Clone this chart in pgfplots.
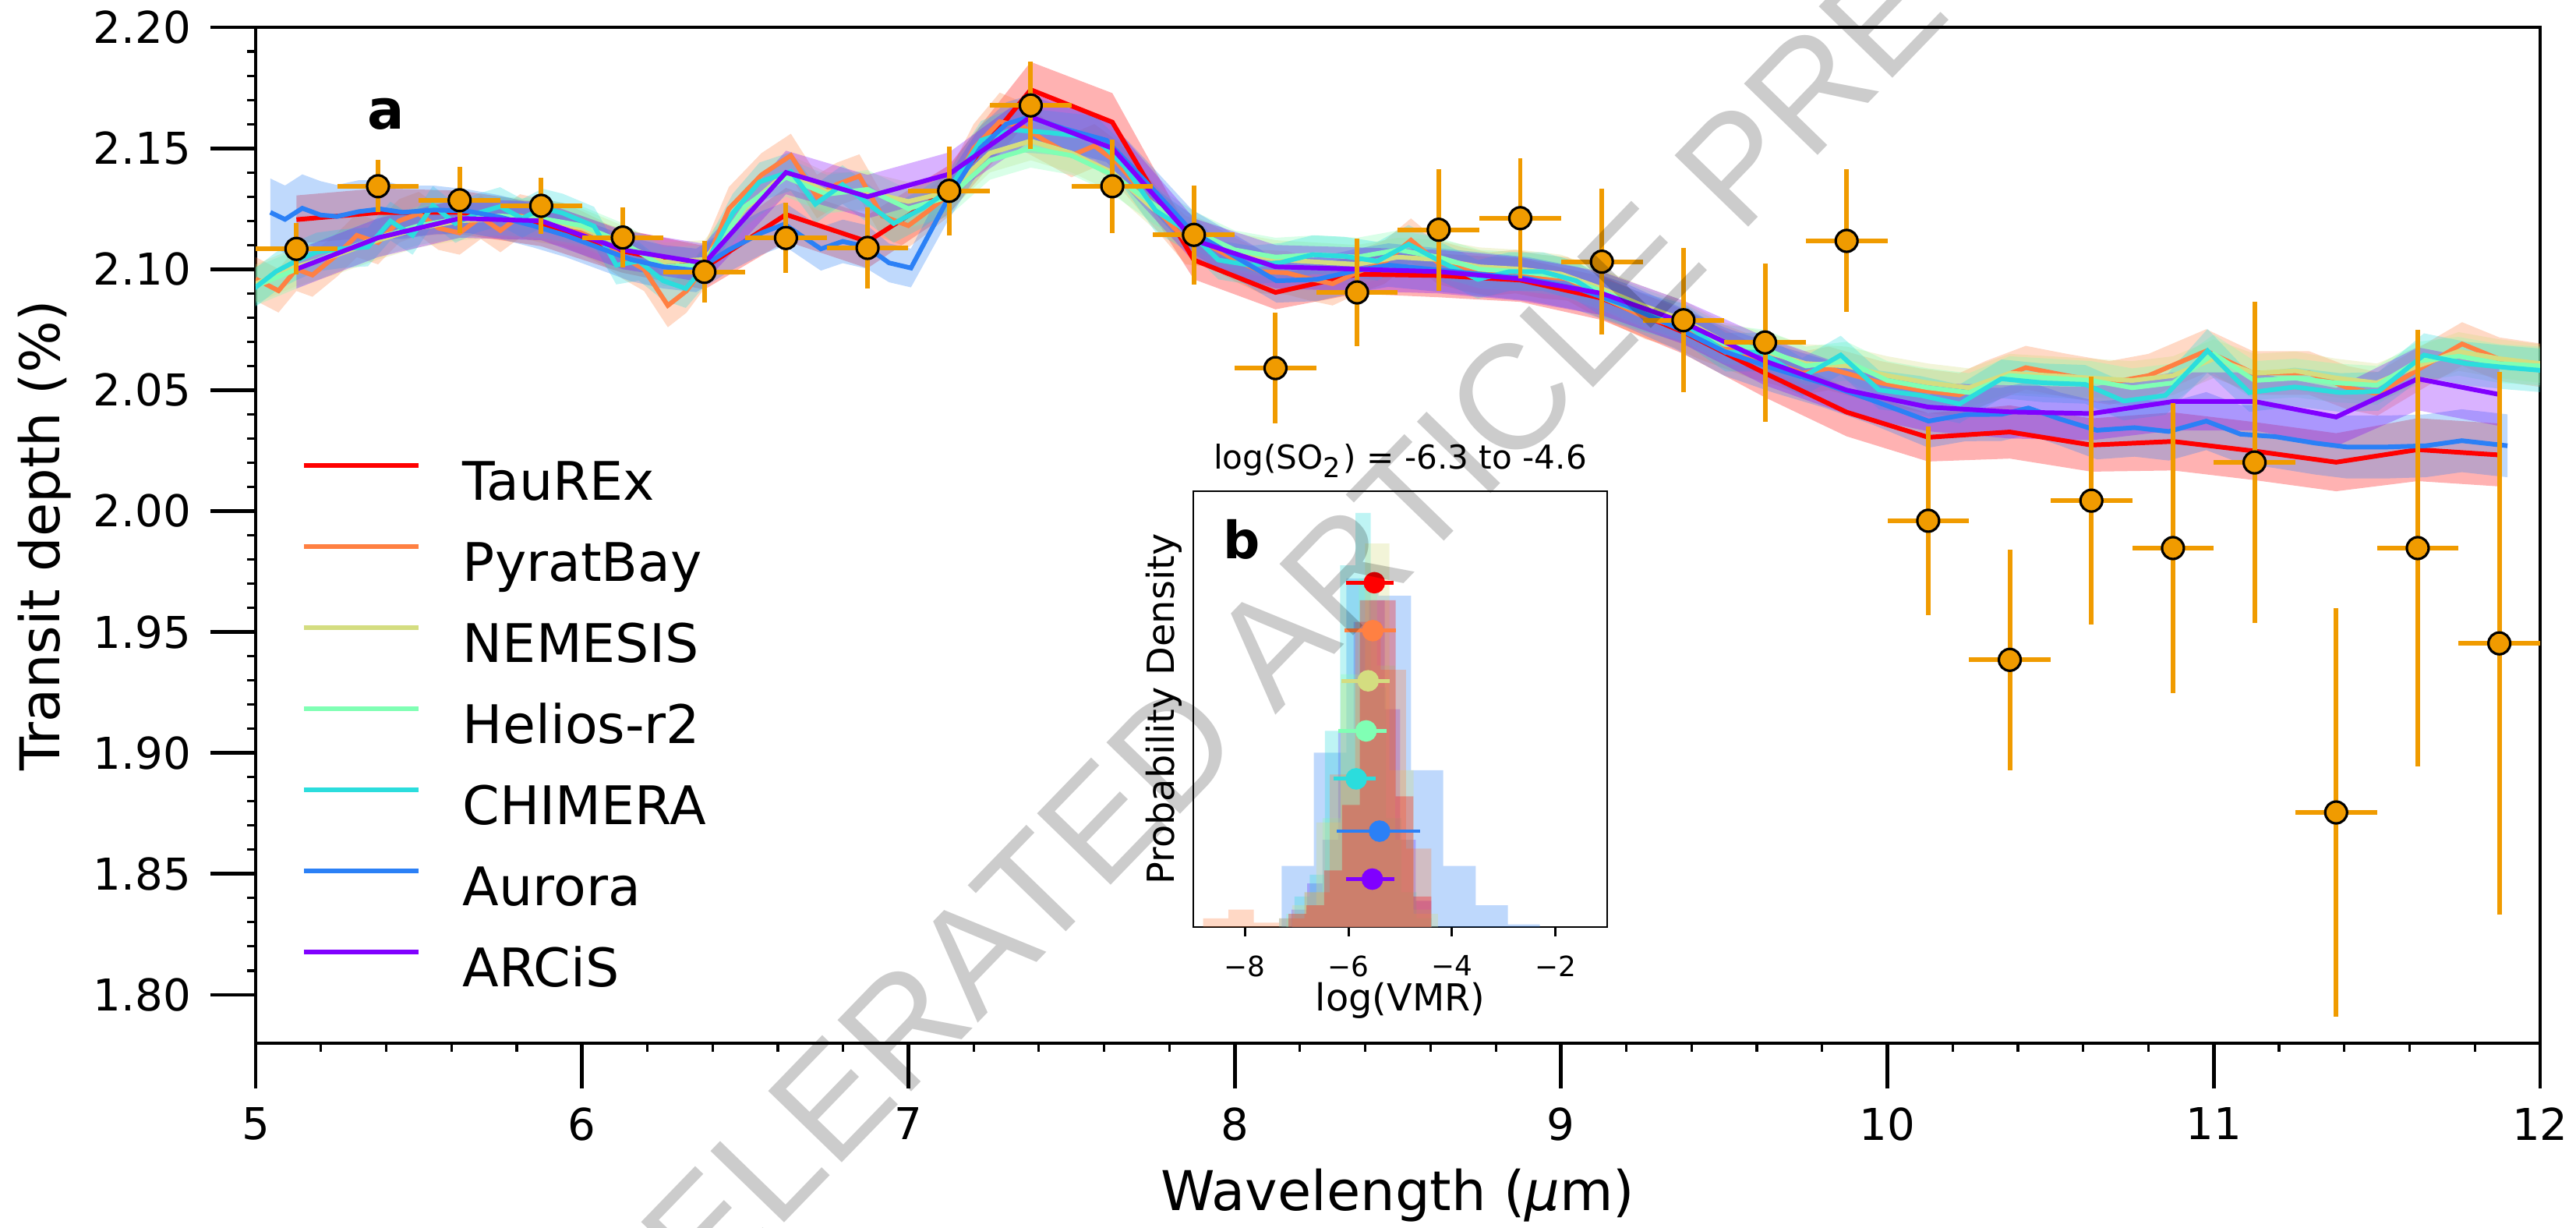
\documentclass[border=0pt]{standalone}
\usepackage{pgfplots}
\pgfplotsset{compat=1.18}
\usepackage{pgfplotstable}
\usepgfplotslibrary{fillbetween}
\usepackage{fontspec}
\setmainfont{DejaVu Sans}
\newfontfamily\wmfont{Liberation Sans}

\definecolor{cTau}{RGB}{255,0,0}
\definecolor{cPyr}{RGB}{255,128,66}
\definecolor{cNem}{RGB}{212,221,128}
\definecolor{cHel}{RGB}{128,255,180}
\definecolor{cChi}{RGB}{43,221,221}
\definecolor{cAur}{RGB}{43,128,246}
\definecolor{cArc}{RGB}{128,0,255}
\definecolor{cObs}{RGB}{240,155,0}

\pgfplotstableread{
x y e
5.125 2.1205 0.010
5.375 2.1234 0.010
5.625 2.1235 0.009
5.875 2.1185 0.009
6.125 2.1075 0.009
6.375 2.1006 0.009
6.625 2.1226 0.011
6.875 2.1114 0.011
7.125 2.1330 0.010
7.375 2.1742 0.0115
7.625 2.1608 0.012
7.875 2.1038 0.008
8.125 2.0904 0.007
8.375 2.0979 0.008
8.625 2.0974 0.009
8.875 2.0955 0.009
9.125 2.0880 0.009
9.375 2.0740 0.009
9.625 2.0570 0.010
9.875 2.0409 0.010
10.125 2.0305 0.010
10.375 2.0327 0.011
10.625 2.0273 0.011
10.875 2.0288 0.012
11.125 2.0248 0.012
11.375 2.0202 0.012
11.625 2.0254 0.013
11.875 2.0232 0.013
}\tauTab

\pgfplotstableread{
x y e
5.000 2.0960 0.009
5.070 2.0911 0.009
5.125 2.1000 0.009
5.174 2.0976 0.009
5.250 2.1060 0.009
5.310 2.1140 0.009
5.375 2.1110 0.009
5.440 2.1200 0.009
5.500 2.1230 0.009
5.560 2.1170 0.009
5.625 2.1150 0.009
5.690 2.1215 0.009
5.750 2.1160 0.009
5.810 2.1220 0.009
5.875 2.1200 0.009
5.940 2.1185 0.009
6.000 2.1150 0.009
6.060 2.1110 0.009
6.125 2.1050 0.009
6.190 2.1000 0.009
6.263 2.0850 0.009
6.320 2.0910 0.009
6.375 2.1010 0.009
6.450 2.1250 0.009
6.550 2.1390 0.009
6.640 2.1470 0.009
6.720 2.1300 0.009
6.780 2.1350 0.009
6.850 2.1385 0.009
6.920 2.1220 0.009
7.000 2.1180 0.009
7.060 2.1240 0.009
7.125 2.1310 0.009
7.200 2.1500 0.010
7.280 2.1610 0.012
7.350 2.1590 0.010
7.420 2.1530 0.009
7.500 2.1470 0.009
7.570 2.1510 0.009
7.640 2.1440 0.009
7.710 2.1330 0.009
7.780 2.1220 0.009
7.850 2.1120 0.010
7.920 2.1100 0.009
8.000 2.1040 0.009
8.080 2.0990 0.009
8.160 2.0985 0.009
8.230 2.0960 0.009
8.300 2.0940 0.009
8.380 2.0990 0.009
8.460 2.1030 0.009
8.540 2.1120 0.009
8.620 2.1030 0.009
8.700 2.1000 0.009
8.780 2.0980 0.009
8.860 2.0990 0.009
8.940 2.0970 0.009
9.020 2.0960 0.009
9.100 2.0900 0.009
9.180 2.0850 0.009
9.260 2.0800 0.009
9.340 2.0770 0.009
9.420 2.0720 0.009
9.500 2.0680 0.009
9.580 2.0640 0.009
9.660 2.0610 0.009
9.740 2.0570 0.009
9.820 2.0590 0.009
9.900 2.0560 0.009
9.980 2.0530 0.009
10.100 2.0500 0.009
10.220 2.0480 0.009
10.300 2.0530 0.009
10.424 2.0593 0.009
10.550 2.0560 0.009
10.680 2.0530 0.009
10.800 2.0560 0.009
10.977 2.0662 0.009
11.120 2.0571 0.009
11.292 2.0571 0.009
11.410 2.0510 0.009
11.502 2.0485 0.009
11.620 2.0580 0.009
11.761 2.0691 0.009
11.875 2.0628 0.009
12.000 2.0603 0.009
}\pyrTab

\pgfplotstableread{
x y e
5.000 2.0940 0.008
5.125 2.1010 0.008
5.250 2.1060 0.008
5.375 2.1120 0.008
5.500 2.1170 0.008
5.625 2.1200 0.008
5.750 2.1210 0.008
5.875 2.1200 0.008
6.000 2.1170 0.008
6.125 2.1100 0.008
6.250 2.1030 0.008
6.375 2.1040 0.008
6.500 2.1250 0.008
6.625 2.1400 0.008
6.750 2.1320 0.008
6.875 2.1320 0.008
7.000 2.1280 0.008
7.125 2.1320 0.008
7.250 2.1480 0.008
7.375 2.1530 0.008
7.500 2.1480 0.008
7.625 2.1400 0.008
7.750 2.1250 0.008
7.875 2.1140 0.008
8.000 2.1070 0.008
8.125 2.1040 0.008
8.250 2.1030 0.008
8.375 2.1020 0.008
8.500 2.1050 0.008
8.625 2.1040 0.008
8.750 2.1010 0.008
8.875 2.1000 0.008
9.000 2.0980 0.008
9.125 2.0920 0.008
9.250 2.0850 0.008
9.375 2.0790 0.008
9.500 2.0700 0.008
9.625 2.0660 0.008
9.750 2.0610 0.008
9.875 2.0600 0.008
10.000 2.0560 0.008
10.125 2.0530 0.008
10.250 2.0510 0.008
10.375 2.0570 0.008
10.500 2.0560 0.008
10.625 2.0550 0.008
10.750 2.0540 0.008
10.875 2.0560 0.008
11.000 2.0630 0.008
11.125 2.0570 0.008
11.250 2.0580 0.008
11.375 2.0550 0.008
11.500 2.0530 0.008
11.625 2.0600 0.008
11.750 2.0660 0.008
11.875 2.0630 0.008
12.000 2.0610 0.008
}\nemTab

\pgfplotstableread{
x y e
5.000 2.0930 0.008
5.125 2.1000 0.008
5.250 2.1070 0.008
5.375 2.1130 0.008
5.500 2.1180 0.008
5.625 2.1210 0.008
5.750 2.1220 0.008
5.875 2.1210 0.008
6.000 2.1180 0.008
6.125 2.1110 0.008
6.250 2.1010 0.008
6.375 2.1020 0.008
6.500 2.1260 0.008
6.625 2.1380 0.008
6.750 2.1310 0.008
6.875 2.1330 0.008
7.000 2.1250 0.008
7.125 2.1300 0.008
7.250 2.1450 0.008
7.375 2.1500 0.008
7.500 2.1470 0.008
7.625 2.1390 0.008
7.750 2.1270 0.008
7.875 2.1160 0.008
8.000 2.1080 0.008
8.125 2.1050 0.008
8.250 2.1060 0.008
8.375 2.1050 0.008
8.500 2.1080 0.008
8.625 2.1050 0.008
8.750 2.1000 0.008
8.875 2.0990 0.008
9.000 2.0970 0.008
9.125 2.0910 0.008
9.250 2.0840 0.008
9.375 2.0780 0.008
9.500 2.0690 0.008
9.625 2.0670 0.008
9.750 2.0600 0.008
9.875 2.0620 0.008
10.000 2.0540 0.008
10.125 2.0510 0.008
10.250 2.0490 0.008
10.375 2.0560 0.008
10.500 2.0550 0.008
10.625 2.0540 0.008
10.750 2.0510 0.008
10.875 2.0530 0.008
11.000 2.0650 0.008
11.125 2.0540 0.008
11.250 2.0550 0.008
11.375 2.0530 0.008
11.500 2.0520 0.008
11.625 2.0620 0.008
11.750 2.0640 0.008
11.875 2.0610 0.008
12.000 2.0600 0.008
}\helTab

\pgfplotstableread{
x y e
4.995 2.0920 0.008
5.062 2.0990 0.008
5.125 2.1035 0.008
5.187 2.1071 0.008
5.265 2.1085 0.008
5.344 2.1092 0.008
5.413 2.1199 0.008
5.481 2.1140 0.008
5.543 2.1264 0.008
5.612 2.1189 0.008
5.680 2.1232 0.008
5.749 2.1259 0.008
5.817 2.1210 0.008
5.879 2.1253 0.008
5.941 2.1232 0.008
6.037 2.1178 0.008
6.105 2.1017 0.008
6.174 2.1033 0.008
6.249 2.0952 0.008
6.318 2.0920 0.008
6.373 2.1006 0.008
6.462 2.1232 0.008
6.544 2.1361 0.008
6.640 2.1404 0.008
6.715 2.1269 0.008
6.798 2.1350 0.008
6.873 2.1275 0.008
6.955 2.1189 0.008
7.045 2.1253 0.008
7.121 2.1323 0.008
7.223 2.1533 0.008
7.319 2.1576 0.009
7.429 2.1565 0.009
7.573 2.1543 0.009
7.662 2.1425 0.009
7.758 2.1242 0.009
7.868 2.1146 0.008
7.950 2.1038 0.008
8.046 2.1017 0.008
8.142 2.1028 0.008
8.238 2.1060 0.008
8.334 2.1054 0.008
8.437 2.1033 0.008
8.533 2.1103 0.008
8.636 2.1028 0.008
8.745 2.0958 0.008
8.841 2.0990 0.008
8.944 2.0990 0.008
9.047 2.0952 0.008
9.129 2.0881 0.008
9.247 2.0823 0.008
9.375 2.0777 0.008
9.504 2.0657 0.008
9.611 2.0657 0.008
9.739 2.0553 0.008
9.857 2.0645 0.008
9.974 2.0501 0.008
10.103 2.0478 0.008
10.221 2.0443 0.008
10.349 2.0547 0.008
10.478 2.0530 0.008
10.606 2.0524 0.008
10.724 2.0455 0.008
10.852 2.0478 0.008
10.981 2.0663 0.009
11.109 2.0490 0.008
11.248 2.0513 0.008
11.387 2.0490 0.008
11.505 2.0495 0.008
11.644 2.0645 0.009
11.772 2.0610 0.009
11.901 2.0593 0.009
12.000 2.0582 0.009
}\chiTab

\pgfplotstableread{
x y e
5.045 2.1235 0.014
5.090 2.1206 0.014
5.143 2.1252 0.014
5.199 2.1224 0.014
5.249 2.1218 0.013
5.316 2.1238 0.013
5.383 2.1249 0.012
5.450 2.1235 0.011
5.550 2.1245 0.010
5.650 2.1240 0.009
5.750 2.1215 0.009
5.850 2.1180 0.009
5.950 2.1140 0.009
6.050 2.1090 0.009
6.150 2.1040 0.009
6.250 2.1010 0.009
6.350 2.0995 0.009
6.450 2.1080 0.009
6.550 2.1150 0.009
6.620 2.1186 0.009
6.732 2.1084 0.009
6.799 2.1115 0.009
6.873 2.1092 0.009
6.941 2.1026 0.008
7.008 2.1005 0.008
7.121 2.1290 0.009
7.220 2.1500 0.009
7.300 2.1600 0.009
7.370 2.1629 0.009
7.480 2.1580 0.009
7.607 2.1533 0.009
7.680 2.1430 0.009
7.758 2.1318 0.009
7.868 2.1157 0.009
7.977 2.1071 0.009
8.128 2.0952 0.009
8.252 2.0958 0.009
8.375 2.0995 0.009
8.471 2.1017 0.009
8.600 2.1000 0.009
8.750 2.0980 0.009
8.900 2.0960 0.009
9.050 2.0920 0.009
9.200 2.0850 0.009
9.350 2.0760 0.009
9.500 2.0660 0.010
9.650 2.0590 0.010
9.800 2.0530 0.010
9.950 2.0460 0.010
10.126 2.0372 0.011
10.240 2.0399 0.011
10.350 2.0400 0.011
10.432 2.0426 0.011
10.530 2.0380 0.011
10.642 2.0334 0.012
10.757 2.0345 0.012
10.862 2.0329 0.012
10.977 2.0372 0.012
11.082 2.0318 0.012
11.187 2.0308 0.013
11.311 2.0281 0.013
11.407 2.0265 0.013
11.531 2.0265 0.013
11.650 2.0270 0.013
11.760 2.0291 0.013
11.900 2.0270 0.013
}\aurTab

\pgfplotstableread{
x y e
5.125 2.1000 0.008
5.375 2.1130 0.008
5.625 2.1210 0.008
5.875 2.1200 0.008
6.125 2.1080 0.008
6.375 2.1025 0.008
6.625 2.1400 0.009
6.875 2.1300 0.009
7.125 2.1393 0.009
7.375 2.1630 0.010
7.625 2.1500 0.010
7.875 2.1120 0.009
8.125 2.1010 0.009
8.375 2.1000 0.009
8.625 2.0990 0.009
8.875 2.0960 0.009
9.125 2.0900 0.009
9.375 2.0780 0.009
9.625 2.0620 0.010
9.875 2.0500 0.010
10.125 2.0430 0.010
10.375 2.0410 0.011
10.625 2.0403 0.011
10.875 2.0453 0.012
11.125 2.0453 0.012
11.375 2.0389 0.012
11.625 2.0547 0.013
11.875 2.0482 0.013
}\arcTab

\pgfplotstableread{
x y ey
5.125 2.1084 0.0106
5.375 2.1343 0.0108
5.625 2.1285 0.0137
5.875 2.1262 0.0117
6.125 2.1131 0.0125
6.375 2.0989 0.0128
6.625 2.1129 0.0145
6.875 2.1088 0.0167
7.125 2.1324 0.0183
7.375 2.1677 0.0180
7.625 2.1343 0.0194
7.875 2.1142 0.0205
8.125 2.0591 0.0229
8.375 2.0904 0.0222
8.625 2.1163 0.0252
8.875 2.1211 0.0248
9.125 2.1031 0.0302
9.375 2.0789 0.0298
9.625 2.0697 0.0328
9.875 2.1117 0.0295
10.125 1.9960 0.0390
10.375 1.9385 0.0457
10.625 2.0043 0.0513
10.875 1.9847 0.0601
11.125 2.0201 0.0665
11.375 1.8754 0.0844
11.625 1.9847 0.0903
11.875 1.9453 0.1122
}\obsTab

\newcommand{\model}[4]{%
  \addplot[draw=none, name path=#3U, forget plot] table[x=x, y expr=\thisrow{y}+\thisrow{e}]{#1};
  \addplot[draw=none, name path=#3L, forget plot] table[x=x, y expr=\thisrow{y}-\thisrow{e}]{#1};
  \addplot[fill=#2, fill opacity=0.3, draw=none, forget plot] fill between[of=#3U and #3L];
  \addplot[#2, line width=0.85pt] table[x=x, y=y]{#1};
  \addlegendentry{#4}
}
\newcommand{\vmr}[4]{% color, x, y, {+err/-err coords}
  \addplot[only marks, mark=*, mark size=0.62mm, #1, error bars/.cd, x dir=both, x explicit, error mark=none, error bar style={#1, line width=0.7pt}] coordinates {(#2,#3) #4};
}
\newcommand{\legfont}{\fontsize{9.7}{11}\selectfont}

\begin{document}
\begin{tikzpicture}
\begin{axis}[
  at={(0,0)}, anchor=south west,
  scale only axis, width=146.55mm, height=65.15mm,
  xmin=5, xmax=12, ymin=1.78, ymax=2.20,
  xtick={5,6,7,8,9,10,11,12},
  xticklabels={5,6,7,8,9,10,11,12},
  ytick={1.80,1.85,1.90,1.95,2.00,2.05,2.10,2.15,2.20},
  yticklabels={1.80,1.85,1.90,1.95,2.00,2.05,2.10,2.15,2.20},
  minor x tick num=4, minor y tick num=4,
  tick pos=left, tick align=outside,
  major tick length=2.9mm, minor tick length=0.55mm,
  every major tick/.style={black, line width=0.7pt},
  every minor tick/.style={black, line width=0.45pt},
  axis line style={line width=0.55pt},
  tick label style={font=\fontsize{8}{9.5}\selectfont},
  xlabel={Wavelength ({\itshape μ}m)},
  ylabel={Transit depth (\%)},
  every axis x label/.style={at={(axis description cs:0.5,0)}, anchor=center, yshift=-9.75mm, font=\fontsize{10}{12}\selectfont},
  every axis y label/.style={at={(axis description cs:-0.0925,0.5)}, rotate=90, anchor=center, font=\fontsize{10}{12}\selectfont},
  legend style={at={(axis description cs:0.02013,0.5733)}, anchor=north west, draw=none, fill=none,
     inner sep=0pt, outer sep=0pt, font=\legfont, row sep=2.0mm,
     nodes={inner sep=0pt, text height=2.5mm, text depth=0.7mm, font=\legfont}},
  legend cell align=left,
  legend image code/.code={\draw[#1, line width=0.85pt] (0mm,1.3mm) -- (7.35mm,1.3mm);},
  /tikz/every odd column/.append style={column sep=2.7mm},
]
\model{\tauTab}{cTau}{tau}{TauREx}
\model{\pyrTab}{cPyr}{pyr}{PyratBay}
\model{\nemTab}{cNem}{nem}{NEMESIS}
\model{\helTab}{cHel}{hel}{Helios-r2}
\model{\chiTab}{cChi}{chi}{CHIMERA}
\model{\aurTab}{cAur}{aur}{Aurora}
\model{\arcTab}{cArc}{arc}{ARCiS}

\addplot[only marks, mark=*, mark size=0.7mm, forget plot,
  mark options={fill=cObs, draw=black, line width=0.45pt},
  error bars/.cd, x dir=both, x fixed=0.125, y dir=both, y explicit,
  error mark=none, error bar style={cObs, line width=0.85pt}]
  table[x=x, y=y, y error=ey]{\obsTab};

\node[font=\bfseries\fontsize{10}{12}\selectfont] at (axis cs:5.40,2.164) {a};
\end{axis}

\begin{axis}[
  at={(60.15mm,7.45mm)}, anchor=south west,
  scale only axis, width=26.55mm, height=27.95mm,
  xmin=-9, xmax=-1, ymin=0, ymax=1,
  xtick={-8,-6,-4,-2}, xticklabels={−8,−6,−4,−2},
  ytick=\empty,
  tick pos=left, tick align=outside, major tick length=0.6mm,
  every major tick/.style={black, line width=0.4pt},
  axis line style={line width=0.4pt},
  axis background/.style={fill=white},
  tick label style={font=\fontsize{5.1}{6}\selectfont},
  xlabel={log(VMR)}, ylabel={Probability Density},
  title={log(SO\textsubscript{2}) = -6.3 to -4.6},
  every axis x label/.style={at={(axis description cs:0.5,0)}, anchor=center, yshift=-4.7mm, font=\fontsize{6.8}{8}\selectfont},
  every axis y label/.style={at={(axis description cs:-0.0716,0.5)}, rotate=90, anchor=center, font=\fontsize{6.8}{8}\selectfont},
  every axis title/.style={at={(axis description cs:0.5,1)}, anchor=center, yshift=1.95mm, font=\fontsize{6}{7}\selectfont},
]
\addplot[ybar interval, fill=cArc, fill opacity=0.3, draw=none] coordinates {(-7.1,0.04) (-6.8,0.1) (-6.5,0.2) (-6.2,0.45) (-5.9,0.7) (-5.6,0.75) (-5.3,0.5) (-5.0,0.2) (-4.7,0.06) (-4.4,0)};
\addplot[ybar interval, fill=cAur, fill opacity=0.3, draw=none] coordinates {(-7.29,0.14) (-6.67,0.40) (-6.04,0.80) (-5.42,0.76) (-4.79,0.36) (-4.17,0.14) (-3.54,0.05) (-2.92,0.006) (-2.30,0)};
\addplot[ybar interval, fill=cChi, fill opacity=0.3, draw=none] coordinates {(-7.34,0.02) (-7.045,0.07) (-6.75,0.12) (-6.455,0.45) (-6.16,0.83) (-5.865,0.95) (-5.57,0.55) (-5.275,0.25) (-4.98,0.08) (-4.685,0.02) (-4.39,0)};
\addplot[ybar interval, fill=cHel, fill opacity=0.3, draw=none] coordinates {(-7.2,0.03) (-6.85,0.08) (-6.5,0.25) (-6.15,0.58) (-5.8,0.80) (-5.45,0.60) (-5.1,0.20) (-4.75,0.04) (-4.4,0)};
\addplot[ybar interval, fill=cNem, fill opacity=0.3, draw=none] coordinates {(-7.09,0.05) (-6.62,0.24) (-6.15,0.56) (-5.68,0.88) (-5.21,0.36) (-4.74,0.03) (-4.27,0)};
\addplot[ybar interval, fill=cPyr, fill opacity=0.3, draw=none] coordinates {(-8.81,0.02) (-8.32,0.04) (-7.83,0.01) (-7.34,0.02) (-6.85,0.08) (-6.36,0.35) (-5.87,0.70) (-5.38,0.59) (-4.89,0.18) (-4.40,0)};
\addplot[ybar interval, fill=cTau, fill opacity=0.3, draw=none] coordinates {(-7.16,0.03) (-6.815,0.05) (-6.47,0.13) (-6.125,0.28) (-5.78,0.75) (-5.435,0.75) (-5.09,0.30) (-4.745,0.07) (-4.40,0)};

\vmr{cTau}{-5.50}{0.79}{+= (0.37,0) -= (0.55,0)}
\vmr{cPyr}{-5.53}{0.68}{+= (0.44,0) -= (0.55,0)}
\vmr{cNem}{-5.62}{0.565}{+= (0.41,0) -= (0.51,0)}
\vmr{cHel}{-5.66}{0.45}{+= (0.39,0) -= (0.53,0)}
\vmr{cChi}{-5.85}{0.34}{+= (0.37,0) -= (0.44,0)}
\vmr{cAur}{-5.40}{0.22}{+= (0.78,0) -= (0.83,0)}
\vmr{cArc}{-5.54}{0.11}{+= (0.42,0) -= (0.51,0)}

\node[font=\bfseries\fontsize{9.4}{11}\selectfont] at (axis cs:-8.07,0.89) {b};
\end{axis}

\node[rotate=45.9, font=\wmfont\fontsize{27.2}{29}\selectfont, text=black, text opacity=0.2, inner sep=0pt] at (68.05mm,28.45mm) {ACCELERATED ARTICLE PREVIEW};

\pgfresetboundingbox
\path[use as bounding box] (-16.4mm,-11.8mm) rectangle (148.85mm,66.9mm);
\end{tikzpicture}
\end{document}
